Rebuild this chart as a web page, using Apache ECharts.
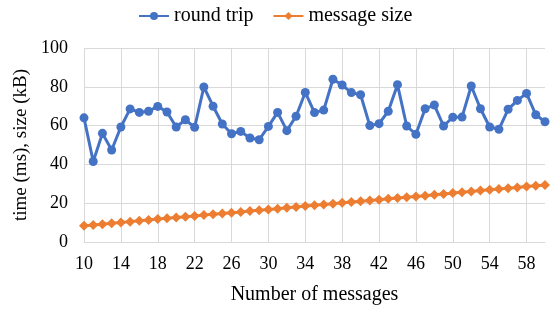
<!DOCTYPE html>
<html>
<head>
<meta charset="utf-8">
<script src="https://cdn.jsdelivr.net/npm/echarts@6/dist/echarts.min.js"></script>
<style>
  html, body { margin: 0; padding: 0; background: #fff; }
  #chart { width: 553px; height: 310px; }
</style>
</head>
<body>
<div id="chart"></div>
<script>
// number of messages, 10..60
const categories = [
  10, 11, 12, 13, 14, 15, 16, 17, 18, 19,
  20, 21, 22, 23, 24, 25, 26, 27, 28, 29,
  30, 31, 32, 33, 34, 35, 36, 37, 38, 39,
  40, 41, 42, 43, 44, 45, 46, 47, 48, 49,
  50, 51, 52, 53, 54, 55, 56, 57, 58, 59, 60
]
const roundTrip = [
  64, 41.5, 56, 47.4, 59.3, 68.6, 66.8, 67.4, 69.9, 67,
  59.3, 63, 59.1, 79.9, 70, 60.8, 55.8, 57, 53.6, 52.7,
  59.6, 66.8, 57.4, 64.8, 77.1, 66.7, 68, 83.9, 80.9, 77,
  75.9, 60, 61, 67.4, 81.1, 59.8, 55.5, 68.7, 70.6, 59.8,
  64.3, 64.4, 80.4, 68.7, 59.3, 58.1, 68.4, 73, 76.6, 65.6, 62
]
const messageSize = [
  8.4, 8.8, 9.2, 9.7, 10.1, 10.5, 10.9, 11.3, 11.8, 12.2,
  12.6, 13.0, 13.4, 13.9, 14.3, 14.7, 15.1, 15.5, 16.0, 16.4,
  16.8, 17.2, 17.6, 18.1, 18.5, 18.9, 19.3, 19.7, 20.2, 20.6,
  21.0, 21.4, 21.8, 22.3, 22.7, 23.1, 23.5, 23.9, 24.4, 24.8,
  25.2, 25.6, 26.0, 26.5, 26.9, 27.3, 27.7, 28.1, 28.6, 29.0, 29.4
]
const yTicks = [0, 20, 40, 60, 80, 100]

const font = 'Liberation Serif'
const chart = echarts.init(document.getElementById('chart'))

const option = {
  animation: false,
  textStyle: { fontFamily: font },
  legend: {
    top: 1,
    left: 133,
    itemWidth: 30,
    itemHeight: 10,
    itemGap: 19,
    textStyle: { fontFamily: font, fontSize: 20, color: '#000' },
    data: ['round trip', 'message size']
  },
  grid: {
    left: 84,
    right: 8,
    top: 48,
    bottom: 68
  },
  xAxis: {
    type: 'category',
    data: categories,
    boundaryGap: false,
    name: 'Number of messages',
    nameLocation: 'middle',
    nameGap: 43,
    nameTextStyle: { fontFamily: font, fontSize: 20, color: '#000' },
    axisLine: { lineStyle: { color: '#d9d9d9', width: 1 } },
    axisTick: { show: false },
    axisLabel: {
      interval: 3,
      margin: 13,
      fontFamily: font,
      fontSize: 18,
      color: '#000'
    },
    splitLine: {
      show: true,
      interval: 3,
      lineStyle: { color: '#d9d9d9', width: 1 }
    }
  },
  yAxis: {
    type: 'value',
    min: yTicks[0],
    max: yTicks[yTicks.length - 1],
    interval: 20,
    name: 'time (ms), size (kB)',
    nameLocation: 'middle',
    nameGap: 51,
    nameTextStyle: { fontFamily: font, fontSize: 19, color: '#000' },
    axisLine: { show: false },
    axisTick: { show: false },
    axisLabel: {
      margin: 16,
      fontFamily: font,
      fontSize: 18,
      color: '#000'
    },
    splitLine: { lineStyle: { color: '#d9d9d9', width: 1 } }
  },
  series: [
    {
      name: 'round trip',
      type: 'line',
      data: roundTrip,
      symbol: 'circle',
      symbolSize: 9,
      showAllSymbol: true,
      lineStyle: { color: '#4472C4', width: 3 },
      itemStyle: { color: '#4472C4' }
    },
    {
      name: 'message size',
      type: 'line',
      data: messageSize,
      symbol: 'diamond',
      symbolSize: 10,
      showAllSymbol: true,
      lineStyle: { color: '#ED7D31', width: 3 },
      itemStyle: { color: '#ED7D31' }
    }
  ]
}

chart.setOption(option)
window.addEventListener('resize', function() {
  chart.resize()
})
</script>
</body>
</html>
